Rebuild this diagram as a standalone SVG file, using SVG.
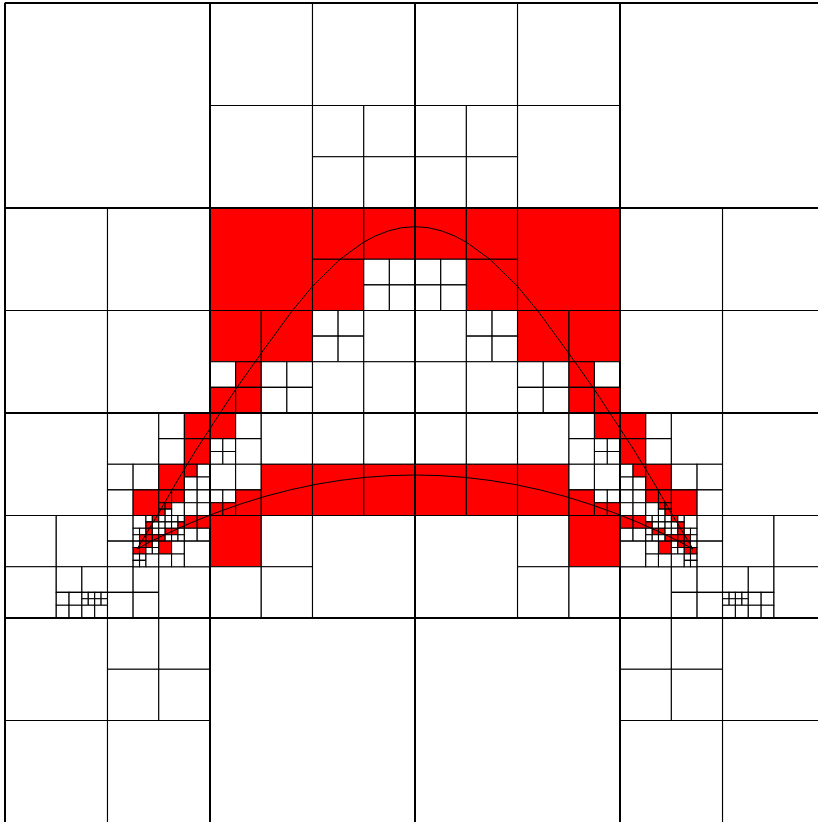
<svg xmlns="http://www.w3.org/2000/svg" width="818" height="822" viewBox="0 0 818 822">
<style>
.c rect{stroke:#000;stroke-width:1.1;vector-effect:non-scaling-stroke}
.w{fill:#fff}.r{fill:#f00}
.g line{stroke:#000;stroke-width:2;vector-effect:non-scaling-stroke}
.arc{fill:none;stroke:#000;stroke-width:1}
</style>
<rect width="818" height="822" fill="#fff"/>
<g transform="translate(5,3) scale(6.40625)">
<g id="left" class="c">
<rect class="w" x="0" y="0" width="32" height="32"/>
<rect class="w" x="32" y="0" width="16" height="16"/>
<rect class="w" x="48" y="0" width="16" height="16"/>
<rect class="w" x="32" y="16" width="16" height="16"/>
<rect class="w" x="48" y="16" width="8" height="8"/>
<rect class="w" x="56" y="16" width="8" height="8"/>
<rect class="w" x="48" y="24" width="8" height="8"/>
<rect class="w" x="56" y="24" width="8" height="8"/>
<rect class="w" x="0" y="32" width="16" height="16"/>
<rect class="w" x="16" y="32" width="16" height="16"/>
<rect class="w" x="0" y="48" width="16" height="16"/>
<rect class="w" x="16" y="48" width="16" height="16"/>
<rect class="r" x="32" y="32" width="16" height="16"/>
<rect class="r" x="48" y="32" width="8" height="8"/>
<rect class="r" x="56" y="32" width="8" height="8"/>
<rect class="r" x="48" y="40" width="8" height="8"/>
<rect class="w" x="56" y="40" width="4" height="4"/>
<rect class="w" x="60" y="40" width="4" height="4"/>
<rect class="w" x="56" y="44" width="4" height="4"/>
<rect class="w" x="60" y="44" width="4" height="4"/>
<rect class="r" x="32" y="48" width="8" height="8"/>
<rect class="r" x="40" y="48" width="8" height="8"/>
<rect class="w" x="32" y="56" width="4" height="4"/>
<rect class="r" x="36" y="56" width="4" height="4"/>
<rect class="r" x="32" y="60" width="4" height="4"/>
<rect class="r" x="36" y="60" width="4" height="4"/>
<rect class="w" x="40" y="56" width="4" height="4"/>
<rect class="w" x="44" y="56" width="4" height="4"/>
<rect class="w" x="40" y="60" width="4" height="4"/>
<rect class="w" x="44" y="60" width="4" height="4"/>
<rect class="w" x="48" y="48" width="4" height="4"/>
<rect class="w" x="52" y="48" width="4" height="4"/>
<rect class="w" x="48" y="52" width="4" height="4"/>
<rect class="w" x="52" y="52" width="4" height="4"/>
<rect class="w" x="56" y="48" width="8" height="8"/>
<rect class="w" x="48" y="56" width="8" height="8"/>
<rect class="w" x="56" y="56" width="8" height="8"/>
<rect class="w" x="0" y="64" width="16" height="16"/>
<rect class="w" x="16" y="64" width="8" height="8"/>
<rect class="w" x="24" y="64" width="4" height="4"/>
<rect class="r" x="28" y="64" width="4" height="4"/>
<rect class="w" x="24" y="68" width="4" height="4"/>
<rect class="r" x="28" y="68" width="4" height="4"/>
<rect class="w" x="16" y="72" width="4" height="4"/>
<rect class="w" x="20" y="72" width="4" height="4"/>
<rect class="w" x="16" y="76" width="4" height="4"/>
<rect class="r" x="20" y="76" width="4" height="4"/>
<rect class="r" x="24" y="72" width="4" height="4"/>
<rect class="r" x="28" y="72" width="2" height="2"/>
<rect class="w" x="30" y="72" width="2" height="2"/>
<rect class="w" x="28" y="74" width="2" height="2"/>
<rect class="w" x="30" y="74" width="2" height="2"/>
<rect class="r" x="24" y="76" width="2" height="2"/>
<rect class="r" x="26" y="76" width="2" height="2"/>
<rect class="w" x="26" y="78" width="2" height="2"/>
<rect class="r" x="24" y="78" width="1" height="1"/>
<rect class="r" x="25" y="78" width="1" height="1"/>
<rect class="r" x="24" y="79" width="1" height="1"/>
<rect class="w" x="25" y="79" width="1" height="1"/>
<rect class="w" x="28" y="76" width="2" height="2"/>
<rect class="w" x="30" y="76" width="2" height="2"/>
<rect class="w" x="28" y="78" width="2" height="2"/>
<rect class="w" x="30" y="78" width="2" height="2"/>
<rect class="w" x="0" y="80" width="8" height="8"/>
<rect class="w" x="8" y="80" width="8" height="8"/>
<rect class="w" x="0" y="88" width="8" height="8"/>
<rect class="w" x="8" y="88" width="4" height="4"/>
<rect class="w" x="12" y="88" width="4" height="4"/>
<rect class="w" x="8" y="92" width="2" height="2"/>
<rect class="w" x="10" y="92" width="2" height="2"/>
<rect class="w" x="8" y="94" width="2" height="2"/>
<rect class="w" x="10" y="94" width="2" height="2"/>
<rect class="w" x="12" y="92" width="1" height="1"/>
<rect class="w" x="13" y="92" width="1" height="1"/>
<rect class="w" x="14" y="92" width="1" height="1"/>
<rect class="w" x="15" y="92" width="1" height="1"/>
<rect class="w" x="12" y="93" width="1" height="1"/>
<rect class="w" x="13" y="93" width="1" height="1"/>
<rect class="w" x="14" y="93" width="1" height="1"/>
<rect class="w" x="15" y="93" width="1" height="1"/>
<rect class="w" x="12" y="94" width="2" height="2"/>
<rect class="w" x="14" y="94" width="2" height="2"/>
<rect class="w" x="16" y="80" width="4" height="4"/>
<rect class="w" x="16" y="84" width="4" height="4"/>
<rect class="w" x="16" y="88" width="4" height="4"/>
<rect class="w" x="20" y="88" width="4" height="4"/>
<rect class="w" x="16" y="92" width="4" height="4"/>
<rect class="w" x="20" y="92" width="4" height="4"/>
<rect class="w" x="24" y="88" width="8" height="8"/>
<rect class="w" x="20" y="80" width="2" height="2"/>
<rect class="w" x="22" y="80" width="1" height="1"/>
<rect class="r" x="23" y="80" width="1" height="1"/>
<rect class="r" x="22" y="81" width="1" height="1"/>
<rect class="w" x="23" y="81" width="1" height="1"/>
<rect class="w" x="20" y="82" width="1" height="1"/>
<rect class="w" x="21" y="82" width="1" height="1"/>
<rect class="w" x="20" y="83" width="1" height="1"/>
<rect class="r" x="21" y="83" width="1" height="1"/>
<rect class="r" x="22" y="82" width="1" height="1"/>
<rect class="w" x="23" y="82" width="1" height="1"/>
<rect class="r" x="22" y="83" width="1" height="1"/>
<rect class="r" x="23" y="83" width="1" height="1"/>
<rect class="w" x="20" y="84" width="1" height="1"/>
<rect class="r" x="21" y="84" width="1" height="1"/>
<rect class="r" x="20" y="85" width="1" height="1"/>
<rect class="r" x="21" y="85" width="1" height="1"/>
<rect class="r" x="22" y="84" width="1" height="1"/>
<rect class="w" x="23" y="84" width="1" height="1"/>
<rect class="w" x="22" y="85" width="1" height="1"/>
<rect class="w" x="23" y="85" width="1" height="1"/>
<rect class="w" x="20" y="86" width="1" height="1"/>
<rect class="w" x="21" y="86" width="1" height="1"/>
<rect class="w" x="20" y="87" width="1" height="1"/>
<rect class="w" x="21" y="87" width="1" height="1"/>
<rect class="w" x="22" y="86" width="2" height="2"/>
<rect class="w" x="24" y="80" width="1" height="1"/>
<rect class="w" x="25" y="80" width="1" height="1"/>
<rect class="w" x="26" y="80" width="1" height="1"/>
<rect class="w" x="27" y="80" width="1" height="1"/>
<rect class="w" x="24" y="81" width="1" height="1"/>
<rect class="w" x="25" y="81" width="1" height="1"/>
<rect class="w" x="26" y="81" width="1" height="1"/>
<rect class="r" x="27" y="81" width="1" height="1"/>
<rect class="w" x="24" y="82" width="1" height="1"/>
<rect class="r" x="25" y="82" width="1" height="1"/>
<rect class="r" x="26" y="82" width="1" height="1"/>
<rect class="w" x="27" y="82" width="1" height="1"/>
<rect class="r" x="24" y="83" width="1" height="1"/>
<rect class="w" x="25" y="83" width="1" height="1"/>
<rect class="w" x="26" y="83" width="1" height="1"/>
<rect class="w" x="27" y="83" width="1" height="1"/>
<rect class="r" x="28" y="80" width="2" height="2"/>
<rect class="r" x="30" y="80" width="2" height="2"/>
<rect class="w" x="28" y="82" width="2" height="2"/>
<rect class="w" x="30" y="82" width="2" height="2"/>
<rect class="r" x="24" y="84" width="2" height="2"/>
<rect class="w" x="26" y="84" width="2" height="2"/>
<rect class="w" x="24" y="86" width="2" height="2"/>
<rect class="w" x="26" y="86" width="2" height="2"/>
<rect class="w" x="28" y="84" width="4" height="4"/>
<rect class="r" x="32" y="64" width="4" height="4"/>
<rect class="w" x="36" y="64" width="4" height="4"/>
<rect class="w" x="32" y="68" width="2" height="2"/>
<rect class="w" x="34" y="68" width="2" height="2"/>
<rect class="w" x="32" y="70" width="2" height="2"/>
<rect class="w" x="34" y="70" width="2" height="2"/>
<rect class="w" x="36" y="68" width="4" height="4"/>
<rect class="w" x="40" y="64" width="8" height="8"/>
<rect class="w" x="32" y="72" width="4" height="4"/>
<rect class="w" x="36" y="72" width="4" height="4"/>
<rect class="w" x="32" y="76" width="2" height="2"/>
<rect class="w" x="34" y="76" width="2" height="2"/>
<rect class="r" x="32" y="78" width="2" height="2"/>
<rect class="r" x="34" y="78" width="2" height="2"/>
<rect class="r" x="36" y="76" width="4" height="4"/>
<rect class="r" x="40" y="72" width="8" height="8"/>
<rect class="w" x="48" y="64" width="8" height="8"/>
<rect class="w" x="56" y="64" width="8" height="8"/>
<rect class="r" x="48" y="72" width="8" height="8"/>
<rect class="r" x="56" y="72" width="8" height="8"/>
<rect class="r" x="32" y="80" width="8" height="8"/>
<rect class="w" x="40" y="80" width="8" height="8"/>
<rect class="w" x="32" y="88" width="8" height="8"/>
<rect class="w" x="40" y="88" width="8" height="8"/>
<rect class="w" x="48" y="80" width="16" height="16"/>
<rect class="w" x="0" y="96" width="16" height="16"/>
<rect class="w" x="16" y="96" width="8" height="8"/>
<rect class="w" x="24" y="96" width="8" height="8"/>
<rect class="w" x="16" y="104" width="8" height="8"/>
<rect class="w" x="24" y="104" width="8" height="8"/>
<rect class="w" x="0" y="112" width="16" height="16"/>
<rect class="w" x="16" y="112" width="16" height="16"/>
<rect class="w" x="32" y="96" width="32" height="32"/>
</g>
<use id="right" href="#left" transform="translate(128,0) scale(-1,1)"/>
<g id="grid" class="g">
<line x1="0" y1="0" x2="0" y2="128"/>
<line x1="32" y1="0" x2="32" y2="128"/>
<line x1="64" y1="0" x2="64" y2="128"/>
<line x1="96" y1="0" x2="96" y2="128"/>
<line x1="0" y1="0" x2="128" y2="0"/>
<line x1="0" y1="32" x2="128" y2="32"/>
<line x1="0" y1="64" x2="128" y2="64"/>
<line x1="0" y1="96" x2="128" y2="96"/>
</g>
</g>
<g id="connectors">
<polyline class="arc" points="137,549 157,516 176,483 196,450 216.7,418.3 235.7,389.3 261.7,352.6 291.7,311.5 312.7,286.1 340,259.3 363.3,242.4 375,236.1 388.3,230.9 401.7,227.7 415,226.7 428.3,227.7 441.7,230.9 455,236.1 466.7,242.4 490,259.3 517.3,286.1 538.3,311.5 568.3,352.6 594.3,389.3 613.3,418.3 634,450 654,483 673,516 693,549"/>
<polyline class="arc" points="137,549 150,541.9 165,534.5 190,523.2 215,513.1 240,504.2 265,496.4 290,489.9 315,484.5 340,480.4 365,477.4 390,475.6 415,475 440,475.6 465,477.4 490,480.4 515,484.5 540,489.9 565,496.4 590,504.2 615,513.1 640,523.2 665,534.5 680,541.9 693,549"/>
</g>
</svg>
